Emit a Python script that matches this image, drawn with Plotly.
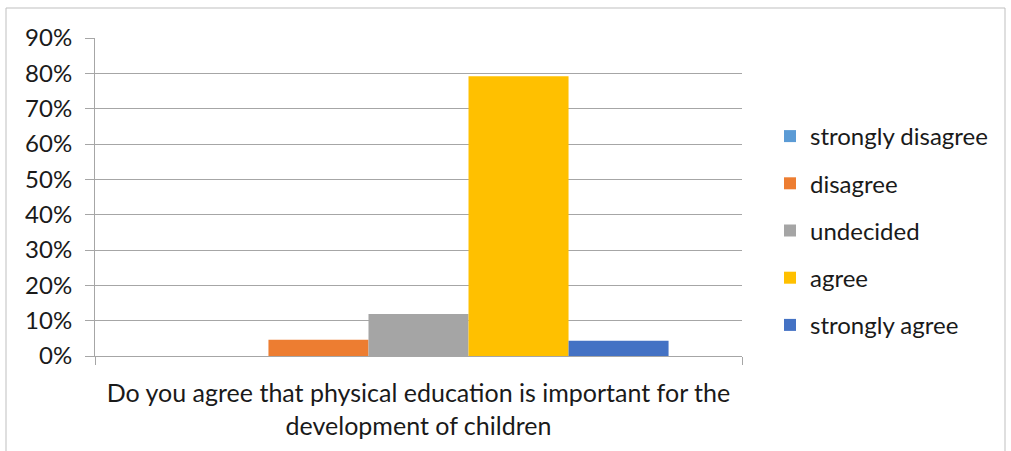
import plotly.graph_objects as go

category = ["Do you agree that physical education is important for the<br>development of children"]
series_names = ["strongly disagree", "disagree", "undecided", "agree", "strongly agree"]
series_values = [0.0, 0.046, 0.119, 0.792, 0.043]
series_colors = ["#5B9BD5", "#ED7D31", "#A5A5A5", "#FFC000", "#4472C4"]
y_ticks = [0, 0.1, 0.2, 0.3, 0.4, 0.5, 0.6, 0.7, 0.8, 0.9]
y_labels = ["0%", "10%", "20%", "30%", "40%", "50%", "60%", "70%", "80%", "90%"]

W, H = 1011, 451
L, R, T, B = 95, 269, 38, 95
pw = W - L - R
ph = H - T - B

fig = go.Figure()
for name, val, col in zip(series_names, series_values, series_colors):
    fig.add_trace(go.Bar(x=category, y=[val], name=name, marker_color=col,
                         marker_line_width=0, legendgroup=name))

FONT = "Lato"
FS = 24
TXT = "#1a1a1a"
GRID = "#A6A6A6"

def px_x(p):
    return (p - L) / pw

def px_y(p):
    return (H - B - p) / ph

fig.update_layout(
    width=W, height=H,
    margin=dict(l=L, r=R, t=T, b=B, autoexpand=False),
    paper_bgcolor="white", plot_bgcolor="white",
    barmode="group", bargap=0.227, bargroupgap=0,
    font=dict(family=FONT, size=FS, color=TXT),
    showlegend=True,
    legend=dict(x=px_x(770), y=px_y(114), xanchor="left", yanchor="top",
                font=dict(family=FONT, size=FS, color=TXT),
                tracegroupgap=13, traceorder="grouped", bgcolor="rgba(0,0,0,0)"),
    xaxis=dict(showgrid=False, showline=True, linecolor=GRID, linewidth=1,
               ticks="outside", tickson="boundaries", ticklen=8, tickcolor=GRID,
               automargin=False, ticklabelstandoff=15,
               tickfont=dict(family=FONT, size=25, color=TXT)),
    yaxis=dict(range=[0, 0.9], tickvals=y_ticks, ticktext=y_labels,
               showgrid=True, gridcolor=GRID, gridwidth=1,
               showline=True, linecolor=GRID, linewidth=1,
               ticks="outside", ticklen=9, tickcolor=GRID,
               zeroline=False, ticklabelstandoff=8, automargin=False,
               tickfont=dict(family=FONT, size=FS, color=TXT)),
    shapes=[dict(type="rect", xref="paper", yref="paper",
                 x0=px_x(6), x1=px_x(1005), y0=px_y(460), y1=px_y(8),
                 line=dict(color="#BFBFBF", width=1), fillcolor="rgba(0,0,0,0)",
                 layer="below")],
)

fig.write_html("out.html", config={"displayModeBar": False},
               post_script="document.body.style.margin='0';")
